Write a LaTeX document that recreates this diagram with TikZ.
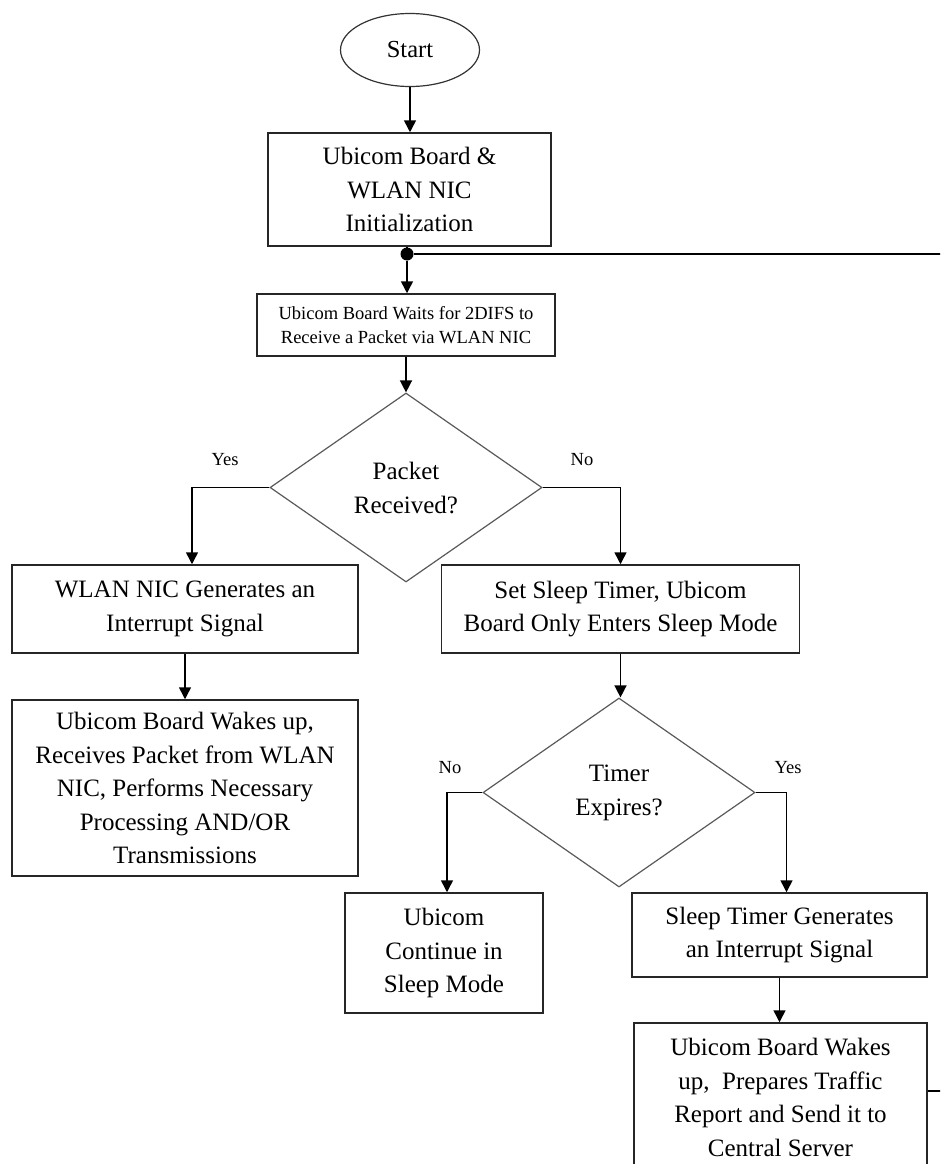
\documentclass[tikz,border=0pt]{standalone}
\usepackage{fontspec}
\setmainfont{Liberation Serif}
\usetikzlibrary{arrows.meta,shapes.geometric}
\begin{document}
\begin{tikzpicture}[x=1pt,y=-1pt,
  box/.style={draw=black!85,line width=1.5pt,rectangle,inner sep=0pt,align=center,
    font=\fontsize{25}{33.5}\selectfont},
  dec/.style={draw=black!65,line width=1.2pt,diamond,inner sep=0pt,align=center,
    font=\fontsize{25}{34}\selectfont},
  lbl/.style={font=\fontsize{18.5}{22}\selectfont},
  arr/.style={line width=1.5pt,-{Triangle[width=12pt,length=12pt]}},
  ln/.style={line width=1.5pt}]
\useasboundingbox (0,0) rectangle (940,1164);
\clip (0,0) rectangle (940,1164);
\node[draw=black!80,line width=1.2pt,ellipse,minimum width=139pt,minimum height=73pt,
  inner sep=0pt,font=\fontsize{24.5}{30}\selectfont] (start) at (410,50) {Start};
\node[box,minimum width=283pt,minimum height=113pt] (init) at (409.5,189.5)
  {Ubicom Board \&\\WLAN NIC\\Initialization};
\node[circle,fill=black,inner sep=0pt,minimum size=13pt] (dot) at (407,254) {};
\node[box,minimum width=298pt,minimum height=62pt,font=\fontsize{18.5}{24}\selectfont]
  (wait) at (406,325) {Ubicom Board Waits for 2DIFS to\\Receive a Packet via WLAN NIC};
\node[dec,minimum width=272pt,minimum height=189pt] (d1) at (406,487.5) {Packet\\Received?};
\node[lbl] (yes1) at (225,460) {Yes};
\node[lbl] (no1) at (582,460) {No};
\node[box,minimum width=346pt,minimum height=88pt] (wlan) at (185,609)
  {WLAN NIC Generates an\\Interrupt Signal};
\node[box,minimum width=358pt,minimum height=88pt] (sleep) at (620.5,609)
  {Set Sleep Timer, Ubicom\\Board Only Enters Sleep Mode};
\node[box,minimum width=346pt,minimum height=176pt] (wakes) at (185,788)
  {Ubicom Board Wakes up,\\Receives Packet from WLAN\\NIC, Performs Necessary\\Processing AND/OR\\Transmissions};
\node[dec,minimum width=272pt,minimum height=189pt] (d2) at (619,792.5) {Timer\\Expires?};
\node[lbl] (no2) at (450,768) {No};
\node[lbl] (yes2) at (788,768) {Yes};
\node[box,minimum width=198pt,minimum height=120pt] (cont) at (444,953)
  {Ubicom\\Continue in\\Sleep Mode};
\node[box,minimum width=295pt,minimum height=84pt] (timer) at (779.5,935)
  {Sleep Timer Generates\\an Interrupt Signal};
\node[box,minimum width=293pt,minimum height=149pt] (final) at (780.5,1097.5)
  {Ubicom Board Wakes\\up,\ \ Prepares Traffic\\Report and Send it to\\Central Server};
\coordinate (fb) at (0,1091);
\draw[arr] (start.south) -- (start.south |- init.north);
\draw[ln] (init.south -| dot) -- (dot);
\draw[arr] (dot) -- (dot |- wait.north);
\draw[arr] (wait.south) -- (d1.north);
\draw[arr] (d1.west) -| ([xshift=7pt]wlan.north);
\draw[arr] (d1.east) -| (sleep.north);
\draw[arr] (wlan.south) -- (wakes.north);
\draw[arr] (sleep.south) -- (sleep.south |- d2.north);
\draw[arr] (d2.west) -| ([xshift=3pt]cont.north);
\draw[arr] (d2.east) -| ([xshift=7pt]timer.north);
\draw[arr] (timer.south) -- (timer.south |- final.north);
\draw[ln] (final.east |- fb) -- (960,1091) -- (960,254) -- (dot);
\end{tikzpicture}
\end{document}
